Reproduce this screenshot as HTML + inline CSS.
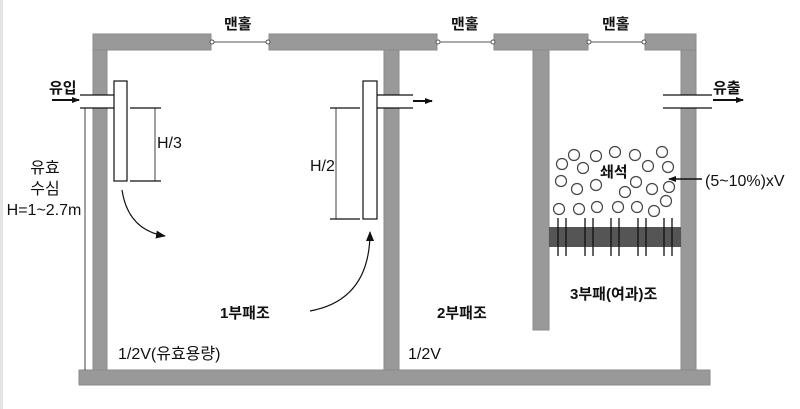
<!DOCTYPE html>
<html><head><meta charset="utf-8"><style>
html,body{margin:0;padding:0;background:#fff;}
svg{display:block;}
text{font-family:"Liberation Sans","Noto Sans CJK KR",sans-serif;font-size:16px;fill:#111;}
.b{font-weight:bold;font-size:15px;}
</style></head><body>
<svg width="800" height="409" viewBox="0 0 800 409" xmlns="http://www.w3.org/2000/svg">
<defs><marker id="ah" markerWidth="10" markerHeight="8" refX="9" refY="4" orient="auto" markerUnits="userSpaceOnUse"><path d="M0,0 L10,4 L0,8 Z" fill="#111"/></marker>
<marker id="ah2" markerWidth="8" markerHeight="6" refX="7" refY="3" orient="auto" markerUnits="userSpaceOnUse"><path d="M0,0 L8,3 L0,6 Z" fill="#111"/></marker></defs>
<rect x="0" y="0" width="3" height="409" fill="#e4e4e4"/>
<g fill="#999" stroke="#8a8a8a" stroke-width="1">
<rect x="93" y="34" width="118" height="16"/>
<rect x="269" y="34" width="168" height="16"/>
<rect x="494" y="34" width="94" height="16"/>
<rect x="645" y="34" width="51" height="16"/>
<rect x="93" y="50" width="14" height="45"/>
<rect x="93" y="108" width="14" height="262"/>
<rect x="384" y="50" width="15" height="45"/>
<rect x="384" y="108" width="15" height="262"/>
<rect x="533" y="50" width="16" height="280"/>
<rect x="681" y="50" width="15" height="45"/>
<rect x="681" y="108" width="15" height="262"/>
<rect x="79" y="370" width="631" height="15"/>
</g>
<g stroke="#555" stroke-width="1" fill="#fff">
<line x1="211" y1="42" x2="269" y2="42"/><circle cx="212" cy="42" r="2"/><circle cx="268" cy="42" r="2"/>
<line x1="437" y1="42" x2="494" y2="42"/><circle cx="438" cy="42" r="2"/><circle cx="493" cy="42" r="2"/>
<line x1="588" y1="42" x2="645" y2="42"/><circle cx="589" cy="42" r="2"/><circle cx="644" cy="42" r="2"/>
</g>
<text class="b" x="224" y="29">맨홀</text><text class="b" x="451" y="29">맨홀</text><text class="b" x="602" y="29">맨홀</text>
<g stroke="#111" stroke-width="1.2" fill="none">
<line x1="80" y1="95" x2="114" y2="95"/><line x1="80" y1="108" x2="114" y2="108"/>
<rect x="114" y="81" width="13" height="100" fill="#fff"/>
<line x1="130" y1="108" x2="161" y2="108"/><line x1="130" y1="181" x2="161" y2="181"/>
<line x1="155" y1="108" x2="155" y2="181" stroke-width="0.8"/>
<line x1="85" y1="108" x2="85" y2="370" stroke-width="0.8"/>
<line x1="377" y1="95" x2="413" y2="95"/><line x1="377" y1="108" x2="413" y2="108"/>
<rect x="363" y="81" width="14" height="138" fill="#fff"/>
<line x1="330" y1="108" x2="360" y2="108"/><line x1="330" y1="219" x2="360" y2="219"/>
<line x1="336" y1="108" x2="336" y2="219" stroke-width="0.8"/>
<line x1="663" y1="95" x2="712" y2="95"/><line x1="663" y1="108" x2="712" y2="108"/>
</g>
<line x1="52" y1="100" x2="79" y2="100" stroke="#111" stroke-width="2" marker-end="url(#ah2)"/>
<line x1="413" y1="101" x2="432" y2="101" stroke="#111" stroke-width="2" marker-end="url(#ah2)"/>
<line x1="713" y1="100" x2="743" y2="100" stroke="#111" stroke-width="2" marker-end="url(#ah2)"/>
<text class="b" x="49" y="93">유입</text><text class="b" x="713" y="93">유출</text>
<text x="157" y="148">H/3</text><text x="310" y="171">H/2</text>
<text x="45" y="173" text-anchor="middle">유효</text>
<text x="45" y="194" text-anchor="middle">수심</text>
<text x="44" y="215" text-anchor="middle">H=1~2.7m</text>
<path d="M122,190 Q128,230 165,236" stroke="#111" stroke-width="1.2" fill="none" marker-end="url(#ah)"/>
<path d="M310,311 Q370,300 370,232" stroke="#111" stroke-width="1.2" fill="none" marker-end="url(#ah)"/>
<rect x="549" y="227" width="132" height="20" fill="#555"/>
<g stroke="#111" stroke-width="1.3">
<line x1="558" y1="218" x2="558" y2="256"/><line x1="566" y1="218" x2="566" y2="256"/>
<line x1="585" y1="218" x2="585" y2="256"/><line x1="593" y1="218" x2="593" y2="256"/>
<line x1="611" y1="218" x2="611" y2="256"/><line x1="619" y1="218" x2="619" y2="256"/>
<line x1="638" y1="218" x2="638" y2="256"/><line x1="646" y1="218" x2="646" y2="256"/>
<line x1="664" y1="218" x2="664" y2="256"/><line x1="672" y1="218" x2="672" y2="256"/>
</g>
<g fill="#fff" stroke="#444" stroke-width="1.2">
<circle cx="562" cy="164" r="5.5"/><circle cx="574" cy="155" r="5.5"/><circle cx="583" cy="168" r="5.5"/>
<circle cx="596" cy="156" r="5.5"/><circle cx="615" cy="152" r="5.5"/><circle cx="635" cy="155" r="5.5"/>
<circle cx="662" cy="152" r="5.5"/><circle cx="648" cy="166" r="5.5"/><circle cx="668" cy="167" r="5.5"/>
<circle cx="561" cy="181" r="5.5"/><circle cx="577" cy="189" r="5.5"/><circle cx="596" cy="185" r="5.5"/>
<circle cx="636" cy="182" r="5.5"/><circle cx="625" cy="192" r="5.5"/><circle cx="652" cy="189" r="5.5"/>
<circle cx="669" cy="187" r="5.5"/><circle cx="666" cy="201" r="5.5"/><circle cx="654" cy="211" r="5.5"/>
<circle cx="637" cy="207" r="5.5"/><circle cx="618" cy="207" r="5.5"/><circle cx="597" cy="207" r="5.5"/>
<circle cx="579" cy="209" r="5.5"/><circle cx="559" cy="209" r="5.5"/>
</g>
<text class="b" x="600" y="177">쇄석</text>
<line x1="702" y1="179" x2="669" y2="179" stroke="#111" stroke-width="1.5" marker-end="url(#ah2)"/>
<text x="705" y="186">(5~10%)xV</text>
<text class="b" x="220" y="318">1부패조</text>
<text class="b" x="437" y="318">2부패조</text>
<text class="b" x="570" y="299">3부패(여과)조</text>
<text x="118" y="359">1/2V(유효용량)</text>
<text x="408" y="359">1/2V</text>
</svg>
</body></html>
